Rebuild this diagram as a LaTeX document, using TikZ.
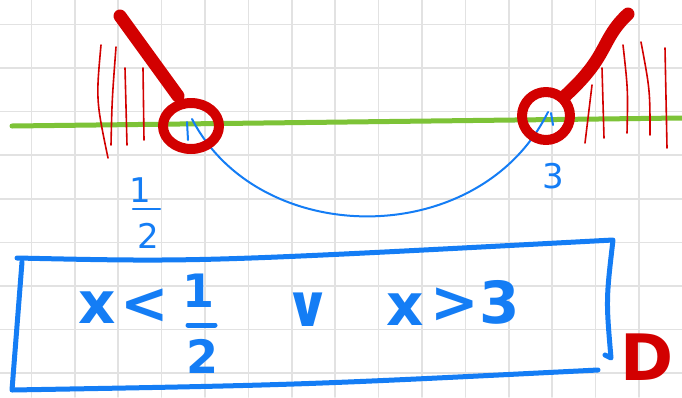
\documentclass[tikz,border=0pt]{standalone}
\usepackage{fontspec}
\setsansfont{DejaVu Sans}
\definecolor{inkred}{RGB}{210,0,0}
\definecolor{inkblue}{RGB}{20,125,245}
\definecolor{inkgreen}{RGB}{125,195,55}
\definecolor{gridgray}{RGB}{226,226,226}

\begin{document}
\begin{tikzpicture}[
    x=1pt, y=-1pt,
    line cap=round, line join=round,
    gridline/.style={gridgray, line width=1.6pt},
    axis/.style={inkgreen, line width=5pt},
    hatch/.style={inkred, line width=1.6pt},
    bar/.style={inkred, line width=13pt},
    hole/.style={inkred, line width=10pt},
    curve/.style={inkblue, line width=2pt},
    frame/.style={inkblue, line width=5pt},
    hand/.style={inkblue, font=\sffamily\bfseries\fontsize{58}{58}\selectfont, inner sep=0pt},
    digit/.style={inkblue, font=\sffamily\bfseries\fontsize{46}{46}\selectfont, inner sep=0pt},
    small/.style={inkblue, font=\sffamily\fontsize{34}{34}\selectfont, inner sep=0pt}
  ]
    \useasboundingbox (0,0) rectangle (682,397);
    \fill[white] (0,0) rectangle (682,397);
    % squared paper
    \foreach \i in {0,...,15}
      \draw[gridline] (31.4+43.4*\i,0) -- (31.4+43.4*\i,397);
    \foreach \j in {0,...,8}
      \draw[gridline] (0,24.4+43.6*\j) -- (682,24.4+43.6*\j);

    \draw[axis] (12,126) -- (682,118);

    % hatching at both ends
    \draw[hatch] (101,45) .. controls (96,100) .. (108,158);
    \draw[hatch] (116,47) .. controls (112,100) .. (111,145);
    \draw[hatch] (125,68) -- (127,145);
    \draw[hatch] (143,68) -- (144,140);
    \draw[hatch] (592,85) -- (585,143);
    \draw[hatch] (602,68) -- (604,138);
    \draw[hatch] (623,45) .. controls (628,90) .. (627,133);
    \draw[hatch] (641,42) .. controls (650,90) .. (650,135);
    \draw[hatch] (665,48) -- (667,148);

    \coordinate (lefthole) at (192,119);
    \coordinate (righthole) at (548,112);

    \draw[curve] (lefthole) .. controls (260,250) and (480,250) .. (righthole);
    \draw[curve] (187,122) -- (188,140);
    \draw[curve] (551,113) -- (553,125);

    \draw[bar] (120,16) -- (178,96);
    \draw[bar] (628,14) .. controls (600,40) and (610,55) .. (565,96);
    \draw[hole] (191,126) ellipse (28 and 23);
    \draw[hole] (546,116) ellipse (24 and 24);

    \node[small] (three) at (553,176) {3};
    \node[small] (halfnum) at (140,190) {1};
    \node[small] (halfden) at (148,236) {2};
    \draw[curve, line width=2.5pt] (133,209) -- (160,209);

    % domain box
    \draw[frame] (17,258) .. controls (200,262) .. (613,240)
      .. controls (606,300) .. (611,358) -- (605,355);
    \draw[frame] (598,370) .. controls (300,385) .. (12,390)
      -- (22,262);

    \node[hand] (lowx) at (97,308) {x};
    \node[hand] (less) at (145,306) {<};
    \node[digit] (num) at (199,291) {1};
    \node[digit] (den) at (203,356) {2};
    \draw[frame] (188,325) -- (215,325);
    \node[hand] (orsign) at (308,310) {∨};
    \node[hand] (upx) at (405,310) {x};
    \node[hand] (greater) at (455,305) {>};
    \node[hand] (bound) at (500,302) {3};
    \node[inkred, font=\sffamily\bfseries\fontsize{64}{64}\selectfont, inner sep=0pt] (dom) at (647,357) {D};
  \end{tikzpicture}
\end{document}
